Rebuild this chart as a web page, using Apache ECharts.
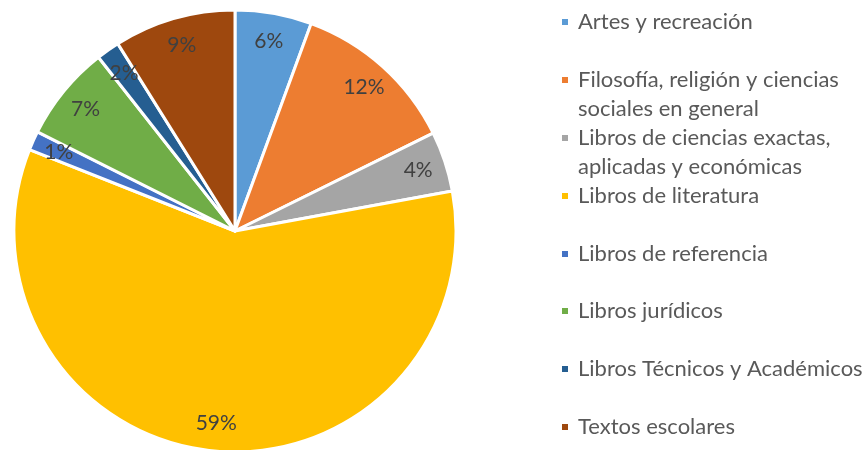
<!DOCTYPE html>
<html>
<head>
<meta charset="utf-8">
<script src="https://cdn.jsdelivr.net/npm/echarts@6/dist/echarts.min.js"></script>
<style>
html, body { margin: 0; padding: 0; background: #fff; }
#myChart { width: 866px; height: 450px; }
</style>
</head>
<body>
<div id="myChart"></div>
<script>
var myChart = echarts.init(document.getElementById('myChart'));

// categorias y porcentajes
var categories = [
    'Artes y recreación',
    'Filosofía, religión y ciencias\nsociales en general',
    'Libros de ciencias exactas,\naplicadas y económicas',
    'Libros de literatura',
    'Libros de referencia',
    'Libros jurídicos',
    'Libros Técnicos y Académicos',
    'Textos escolares'
];
var values = [5.6, 12.1, 4.4, 58.9, 1.4, 7.0, 1.7, 8.9];
var colors = ['#5B9BD5', '#ED7D31', '#A5A5A5', '#FFC000', '#4472C4', '#70AD47', '#255E91', '#9E480E'];

var fontFamily = 'Lato, "Open Sans", sans-serif';

var pieData = [];
var labelData = [];
for (var i = 0; i < categories.length; i++) {
    pieData.push({name: categories[i], value: values[i], itemStyle: {color: colors[i]}});
    labelData.push({name: categories[i], value: values[i]});
}

// una leyenda por elemento, para fijar la posicion vertical de cada marcador
var legendY = [22, 80, 138, 196, 254, 311, 369, 427];
var legends = [];
for (var i = 0; i < categories.length; i++) {
    var twoLines = categories[i].indexOf('\n') >= 0;
    legends.push({
        orient: 'vertical',
        left: 560,
        top: twoLines ? legendY[i] - 43.5 : legendY[i] - 14.5,
        padding: 0,
        itemWidth: 8,
        itemHeight: 8,
        icon: 'rect',
        selectedMode: false,
        data: [categories[i]],
        // linea vacia arriba: la primera linea queda alineada con el marcador
        formatter: twoLines ? function (name) { return ' \n' + name; } : null,
        textStyle: {
            color: '#595959',
            fontFamily: fontFamily,
            fontSize: 22,
            lineHeight: 29,
            padding: [0, 0, 0, 4]
        }
    });
}

myChart.setOption({
    backgroundColor: '#fff',
    animation: false,
    legend: legends,
    series: [
        {
            name: 'main',
            type: 'pie',
            center: [235, 231],
            radius: [0, 221],
            startAngle: 90,
            clockwise: true,
            avoidLabelOverlap: false,
            itemStyle: {borderColor: '#fff', borderWidth: 3},
            label: {show: false},
            labelLine: {show: false},
            emphasis: {disabled: true},
            data: pieData
        },
        {
            name: 'labels',
            type: 'pie',
            center: [235, 231],
            radius: [159, 221],
            startAngle: 90,
            clockwise: true,
            silent: true,
            avoidLabelOverlap: false,
            itemStyle: {color: 'rgba(0,0,0,0)', borderWidth: 0},
            label: {
                show: true,
                position: 'inside',
                color: '#404040',
                fontFamily: fontFamily,
                fontSize: 21,
                formatter: function (p) { return Math.round(p.percent) + '%'; }
            },
            labelLine: {show: false},
            emphasis: {disabled: true},
            data: labelData
        }
    ]
});
</script>
</body>
</html>
